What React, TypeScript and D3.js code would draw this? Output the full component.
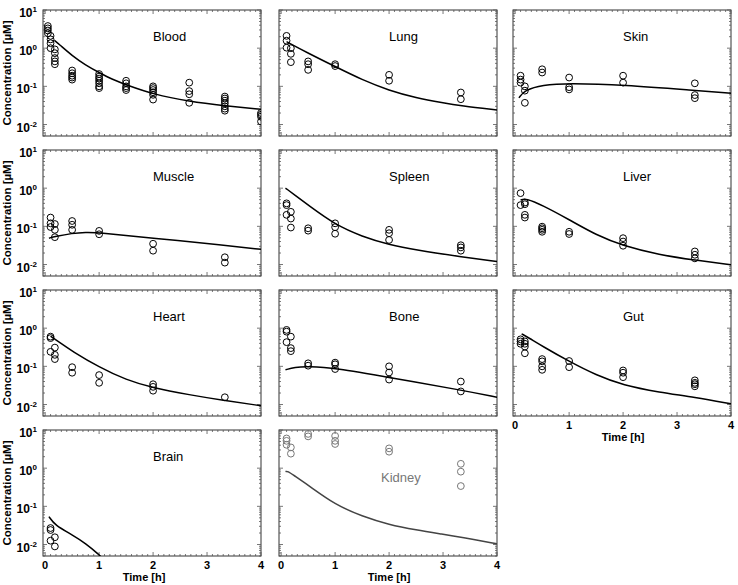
import React from 'react'
import * as d3 from 'd3'

type Pt = [number, number]

// observed concentrations [time h, conc µM]
const bloodObs: Pt[] = [
  [0.05, 3.8], [0.05, 3.3], [0.05, 2.9], [0.05, 2.45],
  [0.1, 2.1], [0.1, 1.7], [0.1, 1.35], [0.1, 1.0],
  [0.18, 0.93], [0.18, 0.74], [0.18, 0.55], [0.18, 0.45], [0.18, 0.38],
  [0.5, 0.26], [0.5, 0.22], [0.5, 0.19], [0.5, 0.17], [0.5, 0.15],
  [1, 0.21], [1, 0.18], [1, 0.16], [1, 0.14], [1, 0.12], [1, 0.1], [1, 0.09],
  [1.5, 0.14], [1.5, 0.12], [1.5, 0.1], [1.5, 0.09], [1.5, 0.08],
  [2, 0.1], [2, 0.09], [2, 0.08], [2, 0.07], [2, 0.06], [2, 0.045],
  [2.67, 0.125], [2.67, 0.075], [2.67, 0.062], [2.67, 0.037],
  [3.33, 0.054], [3.33, 0.048], [3.33, 0.042], [3.33, 0.036], [3.33, 0.03], [3.33, 0.026], [3.33, 0.023],
  [4, 0.02], [4, 0.018], [4, 0.016], [4, 0.012],
]
const lungObs: Pt[] = [
  [0.1, 2.1], [0.1, 1.57], [0.1, 1.03], [0.18, 1.0], [0.18, 0.71], [0.18, 0.43],
  [0.5, 0.45], [0.5, 0.38], [0.5, 0.27], [1, 0.38], [1, 0.34],
  [2, 0.2], [2, 0.14], [3.33, 0.069], [3.33, 0.046],
]
const skinObs: Pt[] = [
  [0.1, 0.19], [0.1, 0.15], [0.1, 0.125], [0.18, 0.1], [0.18, 0.077], [0.18, 0.037],
  [0.5, 0.28], [0.5, 0.23], [1, 0.17], [1, 0.095], [1, 0.083],
  [2, 0.19], [2, 0.125], [3.33, 0.12], [3.33, 0.059], [3.33, 0.049],
]
const muscleObs: Pt[] = [
  [0.1, 0.17], [0.1, 0.12], [0.1, 0.096], [0.18, 0.115], [0.18, 0.081], [0.18, 0.052],
  [0.5, 0.138], [0.5, 0.11], [0.5, 0.081], [1, 0.076], [1, 0.062],
  [2, 0.035], [2, 0.023], [3.33, 0.0155], [3.33, 0.0112],
]
const spleenObs: Pt[] = [
  [0.1, 0.4], [0.1, 0.36], [0.1, 0.2], [0.18, 0.24], [0.18, 0.16], [0.18, 0.093],
  [0.5, 0.089], [0.5, 0.077], [1, 0.12], [1, 0.095], [1, 0.064],
  [2, 0.081], [2, 0.066], [2, 0.044], [3.33, 0.032], [3.33, 0.028], [3.33, 0.023],
]
const liverObs: Pt[] = [
  [0.1, 0.74], [0.1, 0.36], [0.18, 0.42], [0.18, 0.38], [0.18, 0.2], [0.18, 0.17],
  [0.5, 0.098], [0.5, 0.089], [0.5, 0.081], [0.5, 0.072], [1, 0.072], [1, 0.063],
  [2, 0.049], [2, 0.04], [2, 0.031], [3.33, 0.022], [3.33, 0.018], [3.33, 0.0145],
]
const heartObs: Pt[] = [
  [0.1, 0.6], [0.1, 0.55], [0.1, 0.24], [0.18, 0.31], [0.18, 0.2], [0.18, 0.155],
  [0.5, 0.095], [0.5, 0.068], [1, 0.059], [1, 0.037],
  [2, 0.034], [2, 0.029], [2, 0.023], [3.33, 0.0155],
]
const boneObs: Pt[] = [
  [0.1, 0.9], [0.1, 0.81], [0.1, 0.43], [0.18, 0.6], [0.18, 0.3], [0.18, 0.25],
  [0.5, 0.12], [0.5, 0.104], [1, 0.125], [1, 0.113], [1, 0.085],
  [2, 0.1], [2, 0.069], [2, 0.045], [3.33, 0.04], [3.33, 0.022],
]
const gutObs: Pt[] = [
  [0.1, 0.51], [0.1, 0.45], [0.1, 0.39], [0.18, 0.45], [0.18, 0.39], [0.18, 0.33], [0.18, 0.22],
  [0.5, 0.155], [0.5, 0.135], [0.5, 0.1], [0.5, 0.081], [1, 0.138], [1, 0.095],
  [2, 0.078], [2, 0.068], [2, 0.052], [3.33, 0.043], [3.33, 0.037], [3.33, 0.034], [3.33, 0.03],
]
const brainObs: Pt[] = [
  [0.1, 0.027], [0.1, 0.024], [0.1, 0.0126], [0.18, 0.0155], [0.18, 0.0089],
]
const kidneyObs: Pt[] = [
  [0.1, 6.0], [0.1, 5.2], [0.1, 4.1], [0.18, 3.5], [0.18, 2.4],
  [0.5, 7.9], [0.5, 6.8], [1, 7.0], [1, 5.2], [1, 4.3],
  [2, 3.3], [2, 2.7], [3.33, 1.3], [3.33, 0.81], [3.33, 0.34],
]

// simulated profiles
const bloodSim: Pt[] = [[0.17, 1.6], [0.25, 1.3], [0.5, 0.63], [0.75, 0.36], [1, 0.23], [1.25, 0.15], [1.5, 0.11], [2, 0.062], [2.67, 0.04], [3.33, 0.031], [4, 0.025]]
const lungSim: Pt[] = [[0.1, 1.48], [0.5, 0.74], [1, 0.33], [1.5, 0.148], [2, 0.078], [2.5, 0.05], [3, 0.037], [3.33, 0.031], [4, 0.024]]
const skinSim: Pt[] = [[0.07, 0.05], [0.18, 0.08], [0.5, 0.11], [1, 0.12], [2, 0.11], [3.33, 0.078], [4, 0.066]]
const muscleSim: Pt[] = [[0.07, 0.049], [0.18, 0.054], [0.5, 0.066], [0.75, 0.07], [1, 0.069], [2, 0.049], [3.33, 0.032], [4, 0.025]]
const spleenSim: Pt[] = [[0.08, 1.0], [0.1, 0.96], [0.25, 0.66], [0.5, 0.36], [1, 0.11], [1.5, 0.054], [2, 0.033], [2.5, 0.024], [3.33, 0.016], [4, 0.012]]
const liverSim: Pt[] = [[0.1, 0.49], [0.2, 0.54], [0.5, 0.36], [1, 0.15], [1.5, 0.059], [2, 0.031], [2.67, 0.018], [3.33, 0.013], [4, 0.0098]]
const heartSim: Pt[] = [[0.1, 0.62], [0.25, 0.44], [0.5, 0.25], [1, 0.095], [1.5, 0.044], [2, 0.027], [2.67, 0.018], [3.33, 0.0126], [4, 0.0093]]
const boneSim: Pt[] = [[0.08, 0.081], [0.25, 0.095], [0.5, 0.1], [1, 0.09], [2, 0.051], [3.33, 0.024], [4, 0.0155]]
const gutSim: Pt[] = [[0.12, 0.71], [0.25, 0.56], [0.5, 0.34], [1, 0.134], [1.5, 0.059], [2, 0.032], [2.67, 0.021], [3.33, 0.0155], [4, 0.0104]]
const brainSim: Pt[] = [[0.07, 0.054], [0.18, 0.032], [0.5, 0.018], [0.75, 0.0107], [1, 0.0054], [1.05, 0.0045]]
const kidneySim: Pt[] = [[0.08, 0.81], [0.12, 0.85], [0.25, 0.62], [0.5, 0.36], [1, 0.11], [1.5, 0.055], [2, 0.033], [2.5, 0.024], [3, 0.0185], [3.33, 0.0155], [4, 0.0104]]

const xTickValues = [0, 1, 2, 3, 4]
const yTickExponents = [1, 0, -1, -2]

const panels = [
  { name: 'Blood', obs: bloodObs, sim: bloodSim, col: 0, row: 0 },
  { name: 'Lung', obs: lungObs, sim: lungSim, col: 1, row: 0 },
  { name: 'Skin', obs: skinObs, sim: skinSim, col: 2, row: 0 },
  { name: 'Muscle', obs: muscleObs, sim: muscleSim, col: 0, row: 1 },
  { name: 'Spleen', obs: spleenObs, sim: spleenSim, col: 1, row: 1 },
  { name: 'Liver', obs: liverObs, sim: liverSim, col: 2, row: 1 },
  { name: 'Heart', obs: heartObs, sim: heartSim, col: 0, row: 2 },
  { name: 'Bone', obs: boneObs, sim: boneSim, col: 1, row: 2 },
  { name: 'Gut', obs: gutObs, sim: gutSim, col: 2, row: 2 },
  { name: 'Brain', obs: brainObs, sim: brainSim, col: 0, row: 3 },
  { name: 'Kidney', obs: kidneyObs, sim: kidneySim, col: 1, row: 3 },
]

const W = 218
const H = 126
const colLeft = [43, 279, 513]
const rowTop = [10, 150, 290, 430]
const font = 'Liberation Sans, Arial, sans-serif'

const x = d3.scaleLinear().domain([-0.04, 4]).range([0, W])
const y = d3.scaleLog().domain([0.005, 10]).range([H, 0])

const xMinor = d3.range(0, 41).map(i => ({ v: i / 10, major: i % 10 === 0 }))
const yMinor: { v: number; major: boolean }[] = []
for (let e = -3; e <= 1; e++) {
  for (let m = 1; m <= 9; m++) {
    const v = m * Math.pow(10, e)
    if (v >= 0.005 && v <= 10.0001) yMinor.push({ v, major: m === 1 })
  }
}

const simLine = d3.line<Pt>()
  .x(d => x(d[0]))
  .y(d => y(d[1]))
  .curve(d3.curveBasis)

function Panel({ p, i }: { p: typeof panels[number]; i: number }) {
  const left = colLeft[p.col]
  const top = rowTop[p.row]
  const kidney = p.name === 'Kidney'
  const showX = p.row === 3 || (p.col === 2 && p.row === 2)
  const showY = p.col === 0
  const tickCol = '#555'
  return (
    <g transform={`translate(${left},${top})`}>
      <defs>
        <clipPath id={`clip${i}`}>
          <rect x={0} y={0} width={W} height={H} />
        </clipPath>
      </defs>
      <rect x={0} y={0} width={W} height={H} fill="#fff" stroke="#333" strokeWidth={1} />
      {xMinor.map((t, k) => (
        <g key={'x' + k} stroke={tickCol} strokeWidth={0.8}>
          <line x1={x(t.v)} x2={x(t.v)} y1={H} y2={H - (t.major ? 4 : 2)} />
          <line x1={x(t.v)} x2={x(t.v)} y1={0} y2={t.major ? 4 : 2} />
        </g>
      ))}
      {yMinor.map((t, k) => (
        <g key={'y' + k} stroke={tickCol} strokeWidth={0.8}>
          <line x1={0} x2={t.major ? 4 : 2} y1={y(t.v)} y2={y(t.v)} />
          <line x1={W} x2={W - (t.major ? 4 : 2)} y1={y(t.v)} y2={y(t.v)} />
        </g>
      ))}
      <g clipPath={`url(#clip${i})`}>
        <path d={simLine(p.sim) || ''} fill="none" stroke={kidney ? '#444' : '#000'} strokeWidth={1.5} />
        {p.obs.map((d, k) => (
          <circle key={k} cx={x(d[0])} cy={y(d[1])} r={3.4} fill="none"
            stroke={kidney ? '#777' : '#000'} strokeWidth={1} />
        ))}
      </g>
      <text x={kidney ? 102 : 110} y={kidney ? 52 : 31} fontFamily={font} fontSize={13}
        fill={kidney ? '#777' : '#000'}>{p.name}</text>
      {showY && yTickExponents.map(e => (
        <text key={e} x={-6} y={y(Math.pow(10, e)) + 7} textAnchor="end" fontFamily={font}
          fontSize={12} fontWeight="bold">10<tspan dy={-5} fontSize={8}>{e}</tspan></text>
      ))}
      {showY && (
        <text transform={`translate(${11 - left},${H / 2}) rotate(-90)`} textAnchor="middle"
          fontFamily={font} fontSize={11.5} fontWeight="bold">Concentration [µM]</text>
      )}
      {showX && xTickValues.map(v => (
        <text key={v} x={x(v)} y={H + 13} textAnchor="middle" fontFamily={font}
          fontSize={11} fontWeight="bold">{v}</text>
      ))}
      {showX && (
        <text x={x(2) - (p.col === 0 ? 9 : 0)} y={H + 25} textAnchor="middle" fontFamily={font}
          fontSize={11} fontWeight="bold">Time [h]</text>
      )}
    </g>
  )
}

export default function App() {
  return (
    <svg width={738} height={585} style={{ position: 'absolute', left: 0, top: 0, background: '#fff' }}>
      {panels.map((p, i) => <Panel key={p.name} p={p} i={i} />)}
    </svg>
  )
}
